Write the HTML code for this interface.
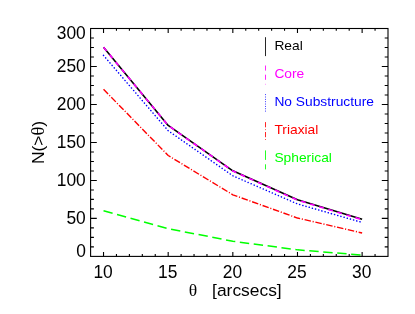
<!DOCTYPE html>
<html><head><meta charset="utf-8"><style>
html,body{margin:0;padding:0;background:#fff;}
svg{display:block;}
text{font-family:"Liberation Sans",sans-serif;}
</style></head><body>
<svg width="415" height="314" viewBox="0 0 415 314">
<defs><filter id="nf" x="0" y="0" width="415" height="314" filterUnits="userSpaceOnUse"><feOffset dx="0" dy="0"/></filter></defs>
<rect width="415" height="314" fill="#fff"/>
<g fill="none" stroke-linejoin="round">
<polyline points="103.53,210.82 168.18,228.67 232.83,241.21 297.48,249.87 362.13,255.03" stroke="#00ff00" stroke-width="1.5" stroke-dasharray="9.4 4.6"/>
<polyline points="103.53,89.27 168.18,155.52 232.83,194.79 297.48,218.04 362.13,233.00" stroke="#ff0000" stroke-width="1.4" stroke-dasharray="6.5 1.75 1.1 1.75"/>
<polyline points="103.53,55.41 168.18,130.72 232.83,175.80 297.48,203.93 362.13,222.46" stroke="#0000ff" stroke-width="1.55" stroke-linecap="round" stroke-dasharray="0.1 3.2"/>
<polyline points="103.53,47.34 168.18,125.43 232.83,170.79 297.48,199.73 362.13,219.18" stroke="#000" stroke-width="1.6"/>
<polyline points="103.53,47.34 168.18,125.43 232.83,170.99 297.48,200.13 362.13,219.68" stroke="#ff00ff" stroke-width="1.6" stroke-dasharray="4.75 4.7"/>
</g>
<g fill="none" stroke="#000" stroke-width="1.1">
<rect x="90.6" y="28.5" width="297.40" height="227.90"/>
<path d="M103.53 256.4 v-4.5 M103.53 28.5 v4.5 M116.46 256.4 v-2.3 M116.46 28.5 v2.3 M129.39 256.4 v-2.3 M129.39 28.5 v2.3 M142.32 256.4 v-2.3 M142.32 28.5 v2.3 M155.25 256.4 v-2.3 M155.25 28.5 v2.3 M168.18 256.4 v-4.5 M168.18 28.5 v4.5 M181.11 256.4 v-2.3 M181.11 28.5 v2.3 M194.04 256.4 v-2.3 M194.04 28.5 v2.3 M206.97 256.4 v-2.3 M206.97 28.5 v2.3 M219.90 256.4 v-2.3 M219.90 28.5 v2.3 M232.83 256.4 v-4.5 M232.83 28.5 v4.5 M245.76 256.4 v-2.3 M245.76 28.5 v2.3 M258.69 256.4 v-2.3 M258.69 28.5 v2.3 M271.62 256.4 v-2.3 M271.62 28.5 v2.3 M284.55 256.4 v-2.3 M284.55 28.5 v2.3 M297.48 256.4 v-4.5 M297.48 28.5 v4.5 M310.41 256.4 v-2.3 M310.41 28.5 v2.3 M323.34 256.4 v-2.3 M323.34 28.5 v2.3 M336.27 256.4 v-2.3 M336.27 28.5 v2.3 M349.20 256.4 v-2.3 M349.20 28.5 v2.3 M362.13 256.4 v-4.5 M362.13 28.5 v4.5 M375.06 256.4 v-2.3 M375.06 28.5 v2.3 M90.6 246.90 h3.3 M388.0 246.90 h-3.3 M90.6 237.41 h3.3 M388.0 237.41 h-3.3 M90.6 227.91 h3.3 M388.0 227.91 h-3.3 M90.6 218.42 h6.2 M388.0 218.42 h-6.2 M90.6 208.92 h3.3 M388.0 208.92 h-3.3 M90.6 199.42 h3.3 M388.0 199.42 h-3.3 M90.6 189.93 h3.3 M388.0 189.93 h-3.3 M90.6 180.43 h6.2 M388.0 180.43 h-6.2 M90.6 170.94 h3.3 M388.0 170.94 h-3.3 M90.6 161.44 h3.3 M388.0 161.44 h-3.3 M90.6 151.95 h3.3 M388.0 151.95 h-3.3 M90.6 142.45 h6.2 M388.0 142.45 h-6.2 M90.6 132.95 h3.3 M388.0 132.95 h-3.3 M90.6 123.46 h3.3 M388.0 123.46 h-3.3 M90.6 113.96 h3.3 M388.0 113.96 h-3.3 M90.6 104.47 h6.2 M388.0 104.47 h-6.2 M90.6 94.97 h3.3 M388.0 94.97 h-3.3 M90.6 85.47 h3.3 M388.0 85.47 h-3.3 M90.6 75.98 h3.3 M388.0 75.98 h-3.3 M90.6 66.48 h6.2 M388.0 66.48 h-6.2 M90.6 56.99 h3.3 M388.0 56.99 h-3.3 M90.6 47.49 h3.3 M388.0 47.49 h-3.3 M90.6 37.99 h3.3 M388.0 37.99 h-3.3"/>
</g>
<g font-size="17.4px" fill="#000" filter="url(#nf)"><text transform="translate(103.08,278.1) scale(1,1.085)" text-anchor="middle">10</text><text transform="translate(167.73,278.1) scale(1,1.085)" text-anchor="middle">15</text><text transform="translate(232.38,278.1) scale(1,1.085)" text-anchor="middle">20</text><text transform="translate(297.03,278.1) scale(1,1.085)" text-anchor="middle">25</text><text transform="translate(361.68,278.1) scale(1,1.085)" text-anchor="middle">30</text><text transform="translate(85.8,39.30) scale(1,1.085)" text-anchor="end">300</text><text transform="translate(85.8,72.48) scale(1,1.085)" text-anchor="end">250</text><text transform="translate(85.8,110.47) scale(1,1.085)" text-anchor="end">200</text><text transform="translate(85.8,148.45) scale(1,1.085)" text-anchor="end">150</text><text transform="translate(85.8,186.43) scale(1,1.085)" text-anchor="end">100</text><text transform="translate(85.8,224.42) scale(1,1.085)" text-anchor="end">50</text><text transform="translate(85.8,257.30) scale(1,1.085)" text-anchor="end">0</text>
<text x="212.1" y="296.2">[arcsecs]</text>
<text x="188.8" y="296.2" style="font-family:'Liberation Serif',serif" font-size="17.6px">θ</text>
<text transform="translate(43.5,142.5) rotate(-90)" text-anchor="middle">N(&gt;<tspan style="font-family:'Liberation Serif',serif" font-size="18.5px">θ</tspan>)</text>
</g>
<g font-size="13.8px" filter="url(#nf)"><line x1="265.5" y1="37.2" x2="265.5" y2="56.1" stroke="#000" stroke-width="0.85" /><text transform="translate(274.4,49.55) scale(1,0.97)" fill="#000">Real</text><line x1="265.5" y1="65.5" x2="265.5" y2="84.4" stroke="#ff00ff" stroke-width="0.85" stroke-dasharray="5.1 4.1"/><text transform="translate(274.4,78.10) scale(1,0.97)" fill="#ff00ff">Core</text><line x1="265.5" y1="94.2" x2="265.5" y2="112.2" stroke="#0000ff" stroke-width="0.85" stroke-dasharray="0.9 1.45"/><text transform="translate(274.4,106.15) scale(1,0.97)" fill="#0000ff">No Substructure</text><line x1="265.5" y1="122.1" x2="265.5" y2="141.0" stroke="#ff0000" stroke-width="0.85" stroke-dasharray="5.2 2 0.8 1.9"/><text transform="translate(274.4,134.15) scale(1,0.97)" fill="#ff0000">Triaxial</text><line x1="265.5" y1="150.4" x2="265.5" y2="169.4" stroke="#00ff00" stroke-width="0.85" stroke-dasharray="9.5 4.4"/><text transform="translate(274.4,162.30) scale(1,0.97)" fill="#00ff00">Spherical</text></g>
</svg>
</body></html>
